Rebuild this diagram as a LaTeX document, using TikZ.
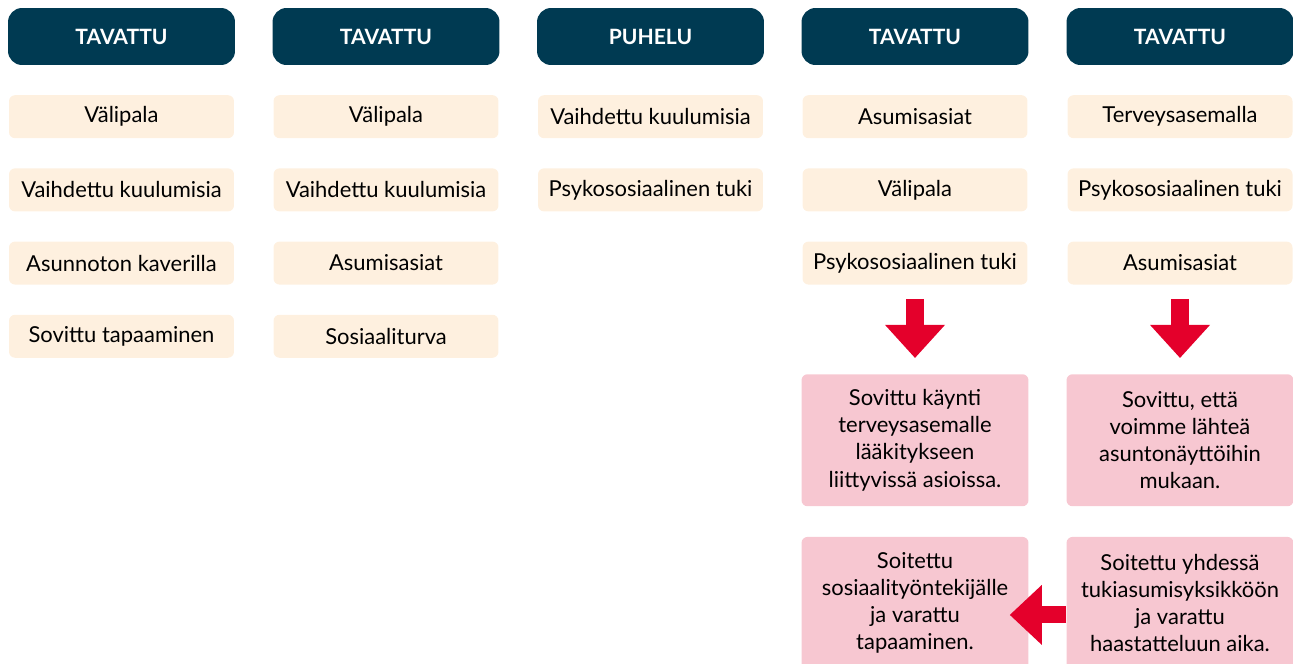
\documentclass[tikz,border=0pt]{standalone}
\usepackage{fontspec}
\setmainfont{Lato}
\usetikzlibrary{positioning, arrows.meta}

\definecolor{navy}{HTML}{003A52}
\definecolor{cream}{HTML}{FEF0DF}
\definecolor{pinkbox}{HTML}{F7C7D1}
\definecolor{redarrow}{HTML}{E4002B}

\begin{document}
\begin{tikzpicture}[x=0.02cm, y=-0.02cm,
        head/.style={rectangle, rounded corners=2.8mm, fill=navy,
            text=white, minimum width=4.54cm, minimum height=1.14cm,
            font=\fontsize{12}{14}\selectfont\bfseries},
        item/.style={rectangle, rounded corners=1.2mm, fill=cream,
            minimum width=4.5cm, minimum height=0.86cm,
            font=\fontsize{12.5}{15}\selectfont},
        note/.style={rectangle, rounded corners=1.2mm, fill=pinkbox,
            minimum width=4.54cm, minimum height=2.64cm, align=center,
            font=\fontsize{12.5}{15.4}\selectfont},
        bigarrow/.style={draw=redarrow, line width=0.36cm,
            -{Triangle[width=1.2cm, length=0.66cm, line width=0pt]}},
    ]

    \useasboundingbox (0,0) rectangle (1293,663);

    % otsikot
    \node[head] (h1) at (121.5,36.5) {TAVATTU};
    \node[head] (h2) at (386,36.5) {TAVATTU};
    \node[head] (h3) at (650.5,36.5) {PUHELU};
    \node[head] (h4) at (915,36.5) {TAVATTU};
    \node[head] (h5) at (1180,36.5) {TAVATTU};

    \node[item] (i11) [below=5.9mm of h1] {Välipala};
    \node[item] (i12) [below=5.9mm of i11] {Vaihdettu kuulumisia};
    \node[item] (i13) [below=5.9mm of i12] {Asunnoton kaverilla};
    \node[item] (i14) [below=5.9mm of i13] {Sovittu tapaaminen};

    \node[item] (i21) [below=5.9mm of h2] {Välipala};
    \node[item] (i22) [below=5.9mm of i21] {Vaihdettu kuulumisia};
    \node[item] (i23) [below=5.9mm of i22] {Asumisasiat};
    \node[item] (i24) [below=5.9mm of i23] {Sosiaaliturva};

    \node[item] (i31) [below=5.9mm of h3] {Vaihdettu kuulumisia};
    \node[item] (i32) [below=5.9mm of i31] {Psykososiaalinen tuki};

    \node[item] (i41) [below=5.9mm of h4] {Asumisasiat};
    \node[item] (i42) [below=5.9mm of i41] {Välipala};
    \node[item] (i43) [below=5.9mm of i42] {Psykososiaalinen tuki};

    \node[item] (i51) [below=5.9mm of h5] {Terveysasemalla};
    \node[item] (i52) [below=5.9mm of i51] {Psykososiaalinen tuki};
    \node[item] (i53) [below=5.9mm of i52] {Asumisasiat};

    % sovitut asiat
    \node[note] (n4a) [below=17.8mm of i43] {Sovittu käynti\\
        terveysasemalle\\ lääkitykseen\\ liittyvissä asioissa.};
    \node[note] (n4b) [below=6mm of n4a] {Soitettu\\
        sosiaalityöntekijälle\\ ja varattu\\ tapaaminen.};
    \node[note] (n5a) [below=17.8mm of i53] {Sovittu, että\\
        voimme lähteä\\ asuntonäyttöihin\\ mukaan.};
    \node[note] (n5b) [below=6mm of n5a] {Soitettu yhdessä\\
        tukiasumisyksikköön\\ ja varattu\\ haastatteluun aika.};

    \draw[bigarrow, shorten <=0.28cm, shorten >=0.32cm] (i43) -- (n4a);
    \draw[bigarrow, shorten <=0.28cm, shorten >=0.32cm] (i53) -- (n5a);
    \draw[bigarrow, line width=0.34cm, shorten >=-0.38cm,
        -{Triangle[width=1.2cm, length=0.64cm, line width=0pt]}]
        ([yshift=-0.24cm]n5b.west) -- ([yshift=-0.24cm]n4b.east);
\end{tikzpicture}
\end{document}
